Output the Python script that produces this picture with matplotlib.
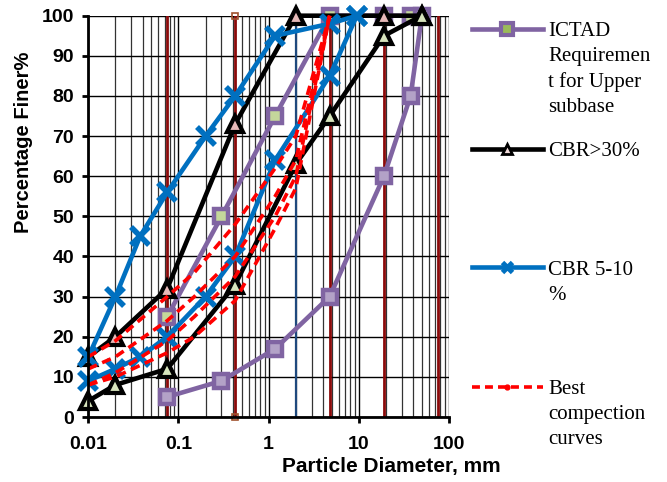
import matplotlib
matplotlib.use("Agg")
import matplotlib.pyplot as plt
from matplotlib.lines import Line2D
from matplotlib.ticker import LogLocator, FixedLocator, NullFormatter

# ---------------- data ----------------
ictad_upper_d = [0.075, 0.3, 1.18, 4.75, 19, 37.5]
ictad_upper_p = [25, 50, 75, 100, 100, 100]
ictad_lower_d = [0.075, 0.3, 1.18, 4.75, 19, 37.5, 50]
ictad_lower_p = [5, 9, 17, 30, 60, 80, 100]

cbr30_upper_d = [0.01, 0.02, 0.075, 0.425, 2, 19, 50]
cbr30_upper_p = [15, 20, 32, 73, 100, 100, 100]
cbr30_lower_d = [0.01, 0.02, 0.075, 0.425, 2, 4.75, 19, 50]
cbr30_lower_p = [4, 8, 12, 33, 63, 75, 95, 100]

cbr510_upper_d = [0.01, 0.02, 0.0375, 0.075, 0.2, 0.425, 1.18, 4.75, 9.5]
cbr510_upper_p = [15, 30, 45, 56, 70, 80, 95, 98, 100]
cbr510_lower_d = [0.01, 0.02, 0.0375, 0.075, 0.2, 0.425, 1.18, 4.75, 9.5]
cbr510_lower_p = [9, 12, 15, 20, 30, 40, 64, 85, 100]

best_d = [0.01, 0.02, 0.075, 0.15, 0.425, 1.18, 2, 4.75]
best_1 = [15, 19, 30, 36, 48, 62, 70, 100]
best_2 = [12, 15, 24, 30, 40, 55, 64, 100]
best_3 = [8, 11, 19, 25, 35, 50, 60, 100]
best_4 = [8, 10, 16, 20, 29, 47, 57, 100]

sieve_red = [0.075, 0.425, 4.75, 19, 75]
sieve_blue = [2]

x_ticks = [0.01, 0.1, 1, 10, 100]
x_ticklabels = ["0.01", "0.1", "1", "10", "100"]
y_ticks = list(range(0, 101, 10))

legend_labels = ["ICTAD\nRequiremen\nt for Upper\nsubbase", "CBR>30%",
                 "CBR 5-10\n%", "Best\ncompection\ncurves"]

# ---------------- style ----------------
PURPLE = "#8064A2"
BLUE = "#0070C0"
RED = "#FF0000"
DARKRED = "#8B0A0A"
NAVY = "#1F497D"
W, H = 667, 482

fig = plt.figure(figsize=(6.67, 4.82), dpi=100)
ax = fig.add_axes([88.3 / W, 1 - 417 / H, (449 - 88.3) / W, (417 - 15.7) / H])
ax.set_xscale("log")
ax.set_xlim(0.01, 100)
ax.set_ylim(0, 100)

# grid
ax.xaxis.set_major_locator(FixedLocator(x_ticks))
ax.xaxis.set_minor_locator(LogLocator(base=10, subs=range(2, 10), numticks=50))
ax.xaxis.set_minor_formatter(NullFormatter())
ax.set_yticks(y_ticks)
ax.grid(True, which="major", axis="both", color="#000000", lw=1.0, zorder=0)
ax.grid(True, which="minor", axis="x", color="#333333", lw=0.9, zorder=0)
ax.set_axisbelow(True)

# sieve verticals
for d in sieve_red:
    ax.axvline(d, color=DARKRED, lw=2.0, zorder=1)
for d in sieve_blue:
    ax.axvline(d, color=NAVY, lw=1.6, zorder=1)
ax.plot([0.425, 0.425], [0, 100], ls="none", marker="s", ms=5, mfc="none",
        mec="#A0522D", mew=1.2, zorder=2, clip_on=False)

# ICTAD
ict_kw = dict(color=PURPLE, lw=3.3, marker="s", ms=10.5, mec=PURPLE, mew=3.2,
              zorder=3, clip_on=False)
ax.plot(ictad_upper_d, ictad_upper_p, mfc="#C4D79B", **ict_kw)
ax.plot(ictad_lower_d, ictad_lower_p, mfc="#B3A2C7", **ict_kw)

# CBR > 30%
cbr30_kw = dict(color="black", lw=3.3, marker="^", ms=11.5, mec="black",
                mew=3, zorder=4, clip_on=False)
ax.plot(cbr30_upper_d, cbr30_upper_p, mfc="#E6B9B8", **cbr30_kw)
ax.plot(cbr30_lower_d, cbr30_lower_p, mfc="#D7E4BD", **cbr30_kw)

# CBR 5-10 %
cbr510_kw = dict(color=BLUE, lw=3.3, marker="x", ms=13, mec=BLUE, mew=4,
                 zorder=5, clip_on=False)
ax.plot(cbr510_upper_d, cbr510_upper_p, **cbr510_kw)
ax.plot(cbr510_lower_d, cbr510_lower_p, **cbr510_kw)

# Best compaction curves
best_kw = dict(color=RED, lw=2.6, ls=(0, (2.6, 1.6)), zorder=6, clip_on=False)
for series in (best_1, best_2, best_3, best_4):
    ax.plot(best_d, series, **best_kw)

# axes styling
for s in ("top", "right"):
    ax.spines[s].set_visible(False)
for s in ("left", "bottom"):
    ax.spines[s].set_linewidth(2)
    ax.spines[s].set_zorder(7)
ax.set_xticklabels(x_ticklabels)
ax.tick_params(axis="both", which="major", length=4.3, width=2, labelsize=14,
               direction="out")
ax.tick_params(axis="x", which="major", pad=9.5)
ax.tick_params(axis="y", which="major", pad=6)
ax.tick_params(axis="x", which="minor", length=0)
for lab in ax.get_xticklabels() + ax.get_yticklabels():
    lab.set_fontweight("bold")
    lab.set_fontfamily("Liberation Sans")

ax.set_ylabel("Percentage Finer%", fontsize=14.5, fontweight="bold",
              family="Liberation Sans")
ax.yaxis.set_label_coords(-0.152, 0.685)
ax.set_xlabel("Particle Diameter, mm", fontsize=15, fontweight="bold",
              family="Liberation Sans")
ax.xaxis.set_label_coords(0.841, -0.1)

# legend, drawn entry by entry
handles = [
    dict(color=PURPLE, lw=3.3, marker="s", ms=8, mfc="#9BBB59", mec=PURPLE, mew=3),
    dict(color="black", lw=3.3, marker="^", ms=7, mfc="#F2DCDB", mec="black", mew=2),
    dict(color=BLUE, lw=3.3, marker="x", ms=7, mec=BLUE, mew=3.5),
    dict(color=RED, lw=2.6, ls=(0, (2.2, 1.4)), marker="o", ms=3.5, mec=RED, mfc=RED),
]
handle_y = [29.3, 149, 267.3, 387.3]
text_base = [36.5, 156.5, 275, 394.5]
line_pitch = 25
for hk, lab, hy, ty in zip(handles, legend_labels, handle_y, text_base):
    ln = Line2D([471.7 / W, 507 / W, 542.7 / W], [1 - hy / H] * 3,
                transform=fig.transFigure, markevery=[1], **hk)
    fig.add_artist(ln)
    for i, part in enumerate(lab.split("\n")):
        fig.text(548.3 / W, 1 - (ty + i * line_pitch) / H, part,
                 family="Liberation Serif", fontsize=15, va="baseline", ha="left")

fig.savefig("out.png", dpi=100)
